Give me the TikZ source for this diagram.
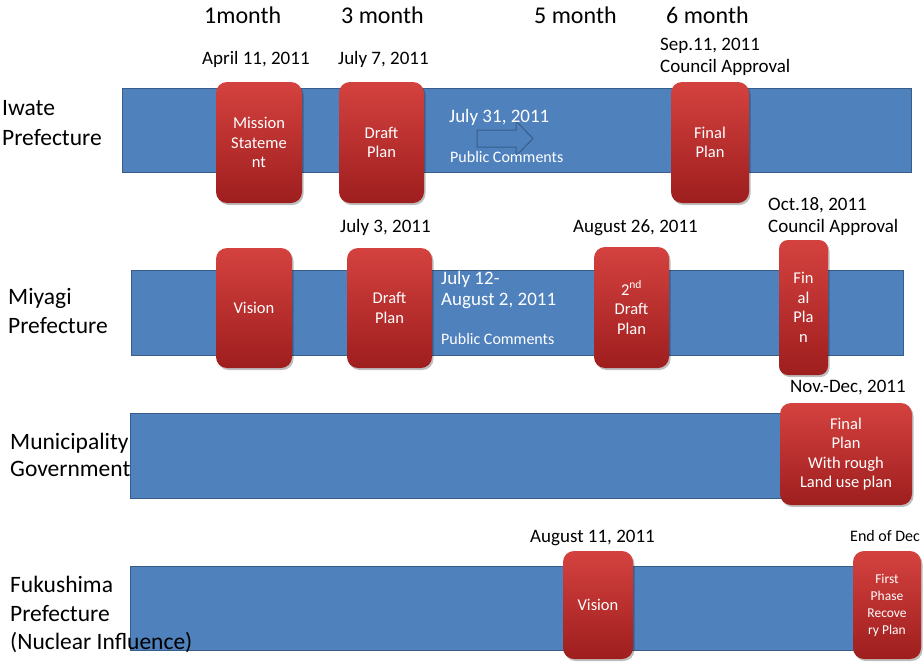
\documentclass[tikz,border=0pt]{standalone}
\usepackage{fontspec}
\setmainfont{Carlito}
\usetikzlibrary{shadows}
\definecolor{barfill}{RGB}{79,129,189}
\definecolor{barline}{RGB}{56,93,138}
\definecolor{boxtop}{RGB}{212,66,63}
\definecolor{boxbot}{RGB}{158,30,30}
\begin{document}
\begin{tikzpicture}[x=1pt, y=-1pt,
  bar/.style={draw=barline, line width=1.3pt, fill=barfill, inner sep=0pt,
    anchor=north west, rectangle},
  stage/.style={rounded corners=11pt, top color=boxtop, bottom color=boxbot,
    draw=none, text=white, align=center, inner sep=0pt,
    font=\fontsize{16.5}{19.5}\selectfont,
    drop shadow={shadow xshift=1.5pt, shadow yshift=-2pt, opacity=0.25, fill=black}},
  hdr/.style={anchor=base west, inner sep=0pt, font=\fontsize{24}{28}\selectfont},
  datelbl/.style={anchor=base west, inner sep=0pt, font=\fontsize{19}{22}\selectfont},
  rowlbl/.style={anchor=base west, inner sep=0pt, font=\fontsize{23.5}{28}\selectfont},
  notebig/.style={anchor=base west, inner sep=0pt, text=white, font=\fontsize{19}{22}\selectfont},
  notesmall/.style={anchor=base west, inner sep=0pt, text=white, font=\fontsize{16}{18}\selectfont}
]
\fill[white] (0,0) rectangle (923,664);
\useasboundingbox (0,0) rectangle (923,664);

% timeline bars
\node[bar, minimum width=789pt, minimum height=84pt] (iwBar) at (122,88) {};
\node[bar, minimum width=772pt, minimum height=85pt] (myBar) at (131,270) {};
\node[bar, minimum width=670pt, minimum height=85pt] (muBar) at (130,413) {};
\node[bar, minimum width=740pt, minimum height=84pt] (fkBar) at (130,566) {};

% public comment arrow on the Iwate bar
\draw[barline, fill=barfill, line width=1pt]
  (477,130) -- (516,130) -- (516,121) -- (533,138.5) -- (516,156) -- (516,147) -- (477,147) -- cycle;

% month headings
\node[hdr] (m1) at (204,23) {1month};
\node[hdr] (m3) at (341,23) {3 month};
\node[hdr] (m5) at (534,23) {5 month};
\node[hdr] (m6) at (666,23) {6 month};

% Iwate
\node[rowlbl] (iwName1) at (2,115) {Iwate};
\node[rowlbl] (iwName2) at (2,145) {Prefecture};
\node[datelbl] (iwD1) at (202,64) {April 11, 2011};
\node[datelbl] (iwD2) at (338,64) {July 7, 2011};
\node[datelbl] (iwD3) at (660,50) {Sep.11, 2011};
\node[datelbl] (iwD4) at (660,72) {Council Approval};
\node[stage, minimum width=86pt, minimum height=121pt] (iwMission) at (259,142.5) {Mission\\Stateme\\nt};
\node[stage, minimum width=85pt, minimum height=121pt] (iwDraft) at (381.5,142.5) {Draft\\Plan};
\node[stage, minimum width=78pt, minimum height=121pt] (iwFinal) at (710,142.5) {Final\\Plan};
\node[notebig] (iwPC1) at (449,122) {July 31, 2011};
\node[notesmall] (iwPC2) at (450,162) {Public Comments};

% Miyagi
\node[rowlbl] (myName1) at (8,304) {Miyagi};
\node[rowlbl] (myName2) at (8,333) {Prefecture};
\node[datelbl] (myD1) at (340,232) {July 3, 2011};
\node[datelbl] (myD2) at (573,232) {August 26, 2011};
\node[datelbl] (myD3) at (768,210) {Oct.18, 2011};
\node[datelbl] (myD4) at (768,232) {Council Approval};
\node[stage, minimum width=76pt, minimum height=120pt] (myVision) at (254,308) {Vision};
\node[stage, minimum width=85pt, minimum height=120pt] (myDraft) at (389.5,308) {Draft\\Plan};
\node[stage, minimum width=75pt, minimum height=121pt] (myDraft2) at (631.5,307.5) {2\textsuperscript{nd}\\Draft\\Plan};
\node[stage, rounded corners=9pt, minimum width=49pt, minimum height=135pt] (myFinal) at (803.5,307.5) {Fin\\al\\Pla\\n};
\node[notebig] (myPC1) at (441,284) {July 12-};
\node[notebig] (myPC2) at (441,305) {August 2, 2011};
\node[notesmall] (myPC3) at (441,344) {Public Comments};

% Municipality
\node[datelbl] (muD1) at (790,392) {Nov.-Dec, 2011};
\node[stage, minimum width=132pt, minimum height=102pt] (muFinal) at (846,454) {Final\\Plan\\With rough\\Land use plan};
\node[rowlbl] (muName1) at (10,449) {Municipality};
\node[rowlbl] (muName2) at (10,476) {Government};

% Fukushima
\node[datelbl] (fkD1) at (530,542) {August 11, 2011};
\node[anchor=base west, inner sep=0pt, font=\fontsize{16}{19}\selectfont] (fkD2) at (850,541) {End of Dec};
\node[stage, minimum width=70pt, minimum height=108pt] (fkVision) at (598,605) {Vision};
\node[stage, minimum width=68pt, minimum height=108pt, font=\fontsize{13.5}{17}\selectfont] (fkFirst) at (887,605) {First\\Phase\\Recove\\ry Plan};
\node[rowlbl] (fkName1) at (10,592) {Fukushima};
\node[rowlbl] (fkName2) at (10,621) {Prefecture};
\node[rowlbl] (fkName3) at (10,649) {(Nuclear Influence)};
\end{tikzpicture}
\end{document}
